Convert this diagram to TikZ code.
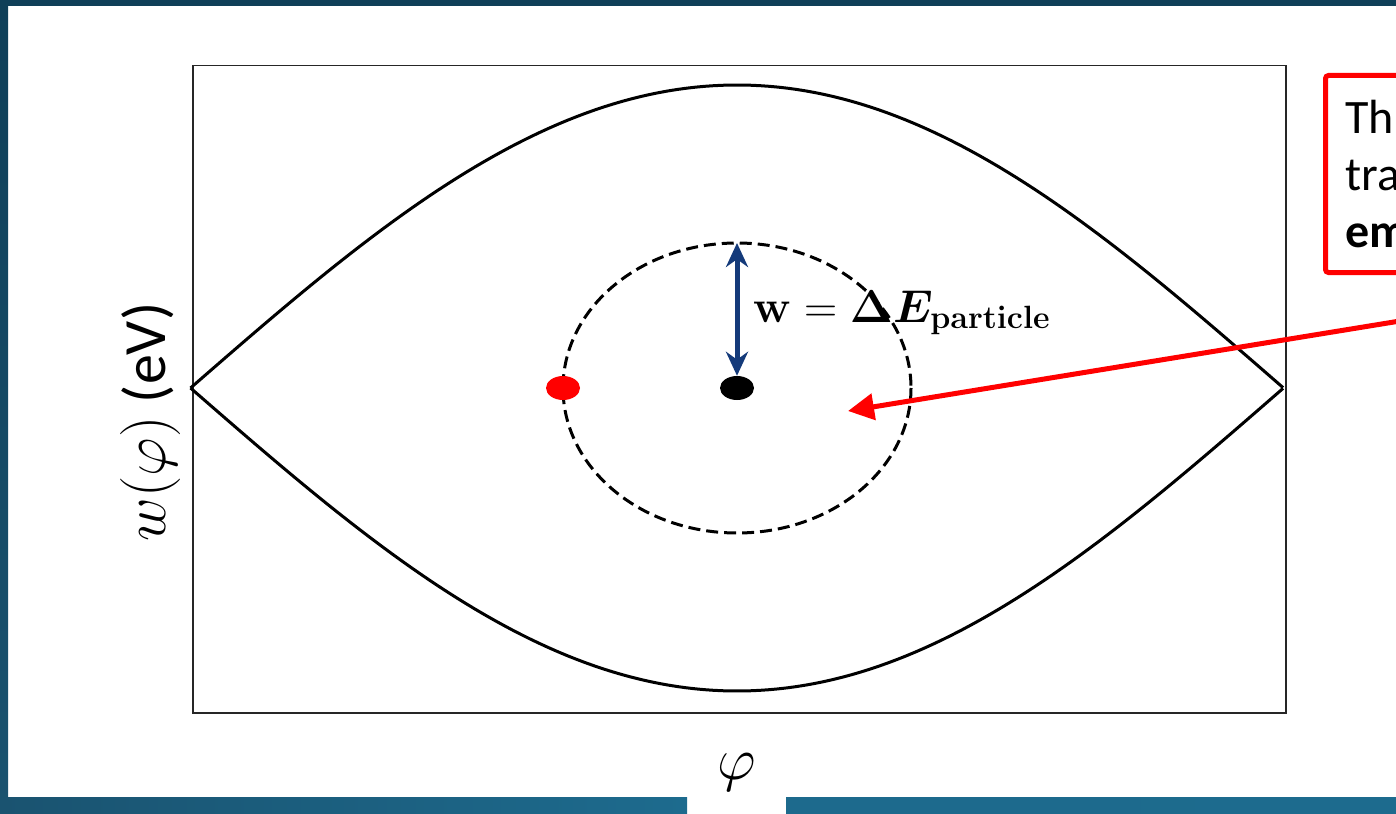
\RequirePackage{fix-cm}
\documentclass[tikz,border=0pt]{standalone}
\usepackage{amsmath,amssymb}
\usepackage{bm}
\usepackage[no-math]{fontspec}
\setmainfont{Carlito}
\usetikzlibrary{positioning,arrows.meta,calc,shapes}
\definecolor{bandtop}{HTML}{0F3F58}
\definecolor{bandleft}{HTML}{1A5370}
\definecolor{bandright}{HTML}{1D6B8E}
\definecolor{wblue}{HTML}{143A7A}

\begin{document}
\begin{tikzpicture}[
  x=1pt,y=-1pt,
  >=Stealth,
  sepline/.style={line width=3pt,black},
  orbit/.style={line width=3pt,dash pattern=on 12pt off 6pt},
  dot/.style={ellipse,minimum width=34pt,minimum height=24pt,inner sep=0pt},
  big/.style={font=\fontsize{46}{55}\selectfont},
  axislab/.style={font=\fontsize{60}{70}\selectfont},
  every node/.style={inner sep=0pt}
]
\useasboundingbox (0,0) rectangle (1396,813);
% frame bands
\fill[bandtop] (0,0) rectangle (1396,6);
\shade[top color=bandtop,bottom color=bandleft] (0,0) rectangle (8,813);
\shade[left color=bandleft,right color=bandright] (0,797) rectangle (687,813);
\shade[left color=bandright!95!bandleft,right color=bandright] (786,797) rectangle (1396,813);

% plot frame
\node[draw=black!85,line width=1.5pt,minimum width=1093pt,minimum height=647pt,
      anchor=north west] (frame) at (192,65) {};

% separatrix
\draw[sepline] plot[domain=-1:1,samples=120] ({737+546.5*\x},{388-303*cos(90*\x)});
\draw[sepline] plot[domain=-1:1,samples=120] ({737+546.5*\x},{388+303*cos(90*\x)});

% particle orbit
\node[dot,fill=black] (centre) at (737,388) {};
\draw[orbit] (centre) ellipse[x radius=174,y radius=145];
\coordinate (top) at (737,243);
\node[dot,fill=red] (particle) at (563,388) {};
\draw[wblue,line width=5pt,
      {Stealth[length=24pt,width=22pt]}-{Stealth[length=24pt,width=22pt]}]
  (centre.north) -- (top);
\node[big,anchor=base west] (wlabel) at (753,322)
  {$\mathbf{w}=\bm{\Delta E}_{\mathbf{particle}}$};

% axis labels
\node[axislab,rotate=90] (ylab) at (150,422) {$w(\varphi)$ (eV)};
\node[axislab] (xlab) at (737,772) {$\varphi$};

% note box, cut off at the right edge
\node[draw=red,line width=5pt,rounded corners=3pt,anchor=north west,
      minimum height=197pt,text width=200pt,align=left,
      inner xsep=20pt,font=\fontsize{48}{57}\selectfont] (note) at (1323,73)
  {Th\\tra\\\textbf{em}};
\coordinate (noteend) at (1400,321);
\draw[red,line width=5pt,-{Triangle[length=26pt,width=26pt]}] (noteend) -- (848,411);
\end{tikzpicture}
\end{document}
